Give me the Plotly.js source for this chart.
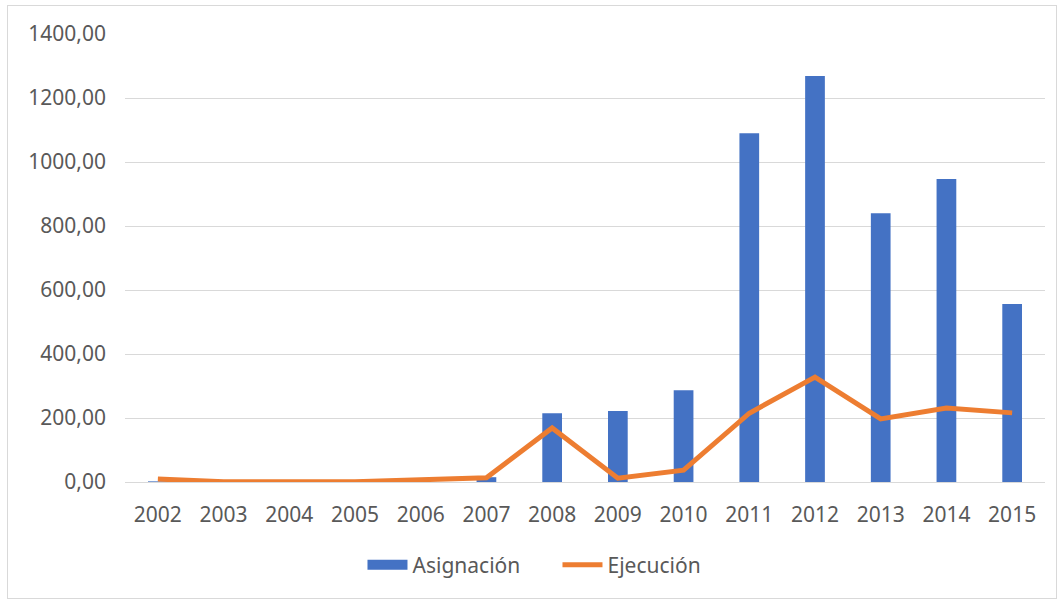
<!DOCTYPE html>
<html>
<head>
<meta charset="utf-8">
<script src="https://cdn.plot.ly/plotly-3.0.1.min.js"></script>
<style>
  html, body { margin: 0; padding: 0; background: #ffffff; }
  #chart { width: 1063px; height: 603px; }
  #frame { position: absolute; left: 7px; top: 5px; width: 1048px; height: 592px;
           border: 1px solid #d9d9d9; pointer-events: none; }
</style>
</head>
<body>
<div id="chart"></div>
<div id="frame"></div>
<script>
const years = ['2002','2003','2004','2005','2006','2007','2008','2009','2010','2011','2012','2013','2014','2015'];
const asignacion = [2, 0, 0, 0, 0, 15, 215, 222, 287, 1090, 1269, 840, 947, 556];
const ejecucion = [9, 1, 1, 1, 7, 13, 169, 12, 37, 215, 328, 197, 231, 216];
const tickValues = [0, 200, 400, 600, 800, 1000, 1200, 1400];

const blue = '#4472C4';
const orange = '#ED7D31';
const textColor = '#595959';
const fontFamily = 'Noto Sans, Open Sans, sans-serif';

const traces = [
  {
    type: 'bar', x: years, y: asignacion, name: 'Asignación',
    marker: { color: blue }, width: 0.3, showlegend: false, legendgroup: 'a',
    hoverinfo: 'x+y'
  },
  {
    type: 'scatter', mode: 'lines', x: [null], y: [null], name: 'Asignación',
    line: { color: blue, width: 13 }, legendgroup: 'a', hoverinfo: 'skip'
  },
  {
    type: 'scatter', mode: 'lines', x: years, y: ejecucion, name: 'Ejecución',
    line: { color: orange, width: 5, shape: 'linear' }
  }
];

const layout = {
  width: 1063, height: 603,
  margin: { l: 125, r: 18, t: 34, b: 121 },
  paper_bgcolor: '#ffffff', plot_bgcolor: '#ffffff',
  separators: ',.',
  font: { family: fontFamily, size: 21, color: textColor },
  showlegend: true,
  legend: {
    orientation: 'h', xref: 'container', yref: 'container',
    x: 0.341, xanchor: 'left', y: 0.063, yanchor: 'middle',
    font: { family: fontFamily, size: 21, color: textColor },
    itemwidth: 40, entrywidth: 140, entrywidthmode: 'pixels', traceorder: 'normal'
  },
  xaxis: {
    type: 'category', range: [-0.5, 13.5],
    showgrid: false, showline: true, linecolor: '#d9d9d9', linewidth: 1,
    ticks: '', ticklabelstandoff: 14,
    tickfont: { family: fontFamily, size: 21, color: textColor }
  },
  yaxis: {
    range: [0, 1400], tickvals: tickValues, tickformat: '.2f',
    showgrid: true, gridcolor: '#d9d9d9', gridwidth: 1,
    zeroline: true, zerolinecolor: '#d9d9d9', zerolinewidth: 1,
    showline: false, ticks: '', ticklabelstandoff: 18,
    tickfont: { family: fontFamily, size: 21, color: textColor }
  }
};

Plotly.newPlot('chart', traces, layout, { displayModeBar: false, staticPlot: true });
</script>
</body>
</html>
